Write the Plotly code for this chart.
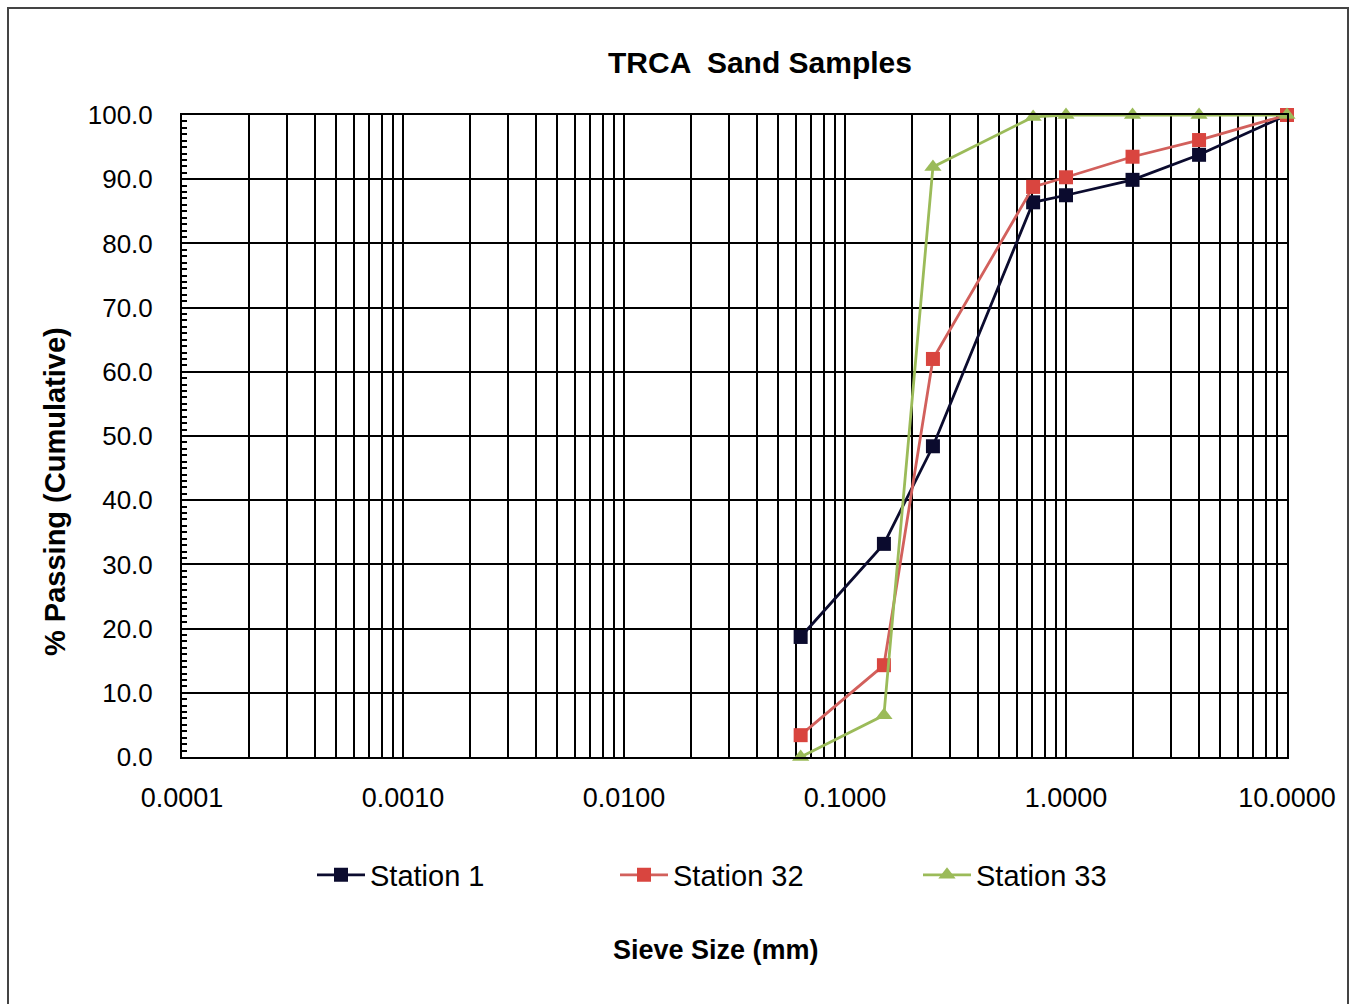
import plotly.graph_objects as go

sieve_mm = [0.063, 0.15, 0.25, 0.71, 1.0, 2.0, 4.0, 10.0]
station_1 = [18.7, 33.2, 48.4, 86.4, 87.5, 89.9, 93.8, 100.0]
station_32 = [3.4, 14.3, 62.0, 88.8, 90.3, 93.5, 96.1, 100.0]
station_33 = [0.0, 6.5, 91.9, 99.7, 100.0, 100.0, 100.0, 100.0]

x_major = [0.0001, 0.001, 0.01, 0.1, 1, 10]
x_major_labels = ["0.0001", "0.0010", "0.0100", "0.1000", "1.0000", "10.0000"]

tickvals, ticktext = [], []
for d, lab in zip(x_major, x_major_labels):
    tickvals.append(d)
    ticktext.append(lab)
    if d < 10:
        for m in range(2, 10):
            tickvals.append(d * m)
            ticktext.append("")

FONT = "Liberation Sans, Arial, sans-serif"

fig = go.Figure()
fig.add_trace(go.Scatter(x=sieve_mm, y=station_1, name="Station 1", mode="lines+markers",
                         line=dict(color="#0b0b2e", width=2.8),
                         marker=dict(symbol="square", size=14, color="#0b0b2e"),
                         cliponaxis=False))
fig.add_trace(go.Scatter(x=sieve_mm, y=station_32, name="Station 32", mode="lines+markers",
                         line=dict(color="#d2605c", width=2.8),
                         marker=dict(symbol="square", size=14, color="#d9453f"),
                         cliponaxis=False))
fig.add_trace(go.Scatter(x=sieve_mm, y=station_33, name="Station 33", mode="lines+markers",
                         line=dict(color="#9bbb59", width=2.8),
                         marker=dict(symbol="triangle-up", size=15, color="#9bbb59"),
                         cliponaxis=False))

L, R, T, B = 182, 67, 115, 247
W, H = 1354, 1004
pw, ph = W - L - R, H - T - B

def px(xp):
    return (xp - L) / pw

def py(yp):
    return (H - B - yp) / ph

fig.update_layout(
    width=W, height=H,
    margin=dict(l=L, r=R, t=T, b=B),
    paper_bgcolor="white", plot_bgcolor="white",
    font=dict(family=FONT, color="black", size=26),
    showlegend=True,
    legend=dict(orientation="h", x=px(312), xanchor="left", y=py(875), yanchor="middle",
                font=dict(size=29, family=FONT), entrywidth=240, entrywidthmode="pixels",
                itemwidth=48, bgcolor="rgba(0,0,0,0)"),
    xaxis=dict(type="log", range=[-4, 1], tickvals=tickvals, ticktext=ticktext,
               showgrid=True, gridcolor="black", gridwidth=1.8,
               showline=True, linecolor="black", linewidth=2, mirror=True,
               ticks="", ticklabelstandoff=16, tickfont=dict(size=27), zeroline=False),
    yaxis=dict(range=[0, 100], dtick=10, tickformat=".1f",
               showgrid=True, gridcolor="black", gridwidth=1.8,
               showline=True, linecolor="black", linewidth=2, mirror=True,
               ticks="", ticklabelstandoff=22, tickfont=dict(size=26), zeroline=False,
               minor=dict(ticks="inside", dtick=1, ticklen=5, tickcolor="black", tickwidth=1.5)),
    annotations=[
        dict(text="<b>TRCA  Sand Samples</b>", xref="paper", yref="paper",
             x=px(760), y=py(62), xanchor="center", yanchor="middle",
             showarrow=False, font=dict(size=30, family=FONT)),
        dict(text="<b>% Passing (Cumulative)</b>", xref="paper", yref="paper",
             x=px(55), y=py(492), xanchor="center", yanchor="middle",
             showarrow=False, textangle=-90, font=dict(size=29, family=FONT)),
        dict(text="<b>Sieve Size (mm)</b>", xref="paper", yref="paper",
             x=px(716), y=py(950), xanchor="center", yanchor="middle",
             showarrow=False, font=dict(size=27, family=FONT)),
    ],
    shapes=[
        dict(type="rect", xref="paper", yref="paper", x0=px(8), x1=px(1348), y0=py(1012), y1=py(8),
             line=dict(color="#444", width=2), fillcolor="rgba(0,0,0,0)", layer="below"),
    ],
)

fig.write_html("out.html")
